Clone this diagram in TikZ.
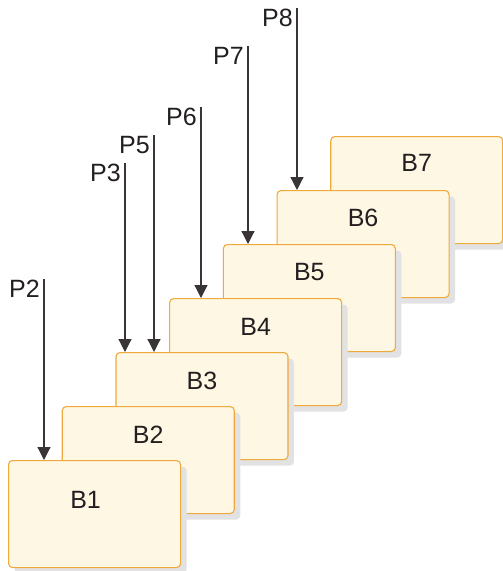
\documentclass[tikz,border=0pt]{standalone}
\usepackage{fontspec}
\setmainfont{Liberation Sans}
\usetikzlibrary{arrows.meta,positioning,shadows}
\definecolor{cream}{RGB}{254,247,227}
\definecolor{amber}{RGB}{240,170,60}
\definecolor{ink}{RGB}{35,31,32}
\definecolor{shade}{RGB}{226,226,228}

\begin{document}
\begin{tikzpicture}[x=1pt,y=-1pt,
    blk/.style={draw=amber,fill=cream,line width=1.1pt,rounded corners=4pt,
      minimum width=172pt,minimum height=107pt,inner sep=0pt,anchor=north west,
      drop shadow={shadow xshift=6pt,shadow yshift=-6pt,fill=shade,opacity=1}},
    tag/.style={font=\fontsize{25}{30}\selectfont,text=ink,inner sep=0pt,anchor=base},
    ptr/.style={draw=ink!90,line width=1.2pt,-{Triangle[width=13pt,length=13pt]}}]
  \useasboundingbox (0,0) rectangle (503,571);
  % blocks, back to front
  \foreach \i/\dx/\dy in {7/0/35,6/0/36,5/0/36,4/0/37,3/0/37,2/0/37,1/-9/48}{
    \node[blk] (b\i) at ({8+(\i-1)*53.7},{460-(\i-1)*54}) {};
    \node[tag] (t\i) at ([xshift=\dx pt,yshift=-\dy pt]b\i.north) {B\i};
  }
  % pointers
  \foreach \p/\x/\y/\b in {2/44/279/1,3/125/163/3,5/154/135/3,6/201/107/4,7/248/46/5,8/297/8/6}{
    \coordinate (p\p) at (\x,\y);
    \node[tag,anchor=north east] (l\p) at ([xshift=-4pt,yshift=-1pt]p\p) {P\p};
    \draw[ptr] (p\p) -- (p\p |- b\b.north);
  }
\end{tikzpicture}
\end{document}
